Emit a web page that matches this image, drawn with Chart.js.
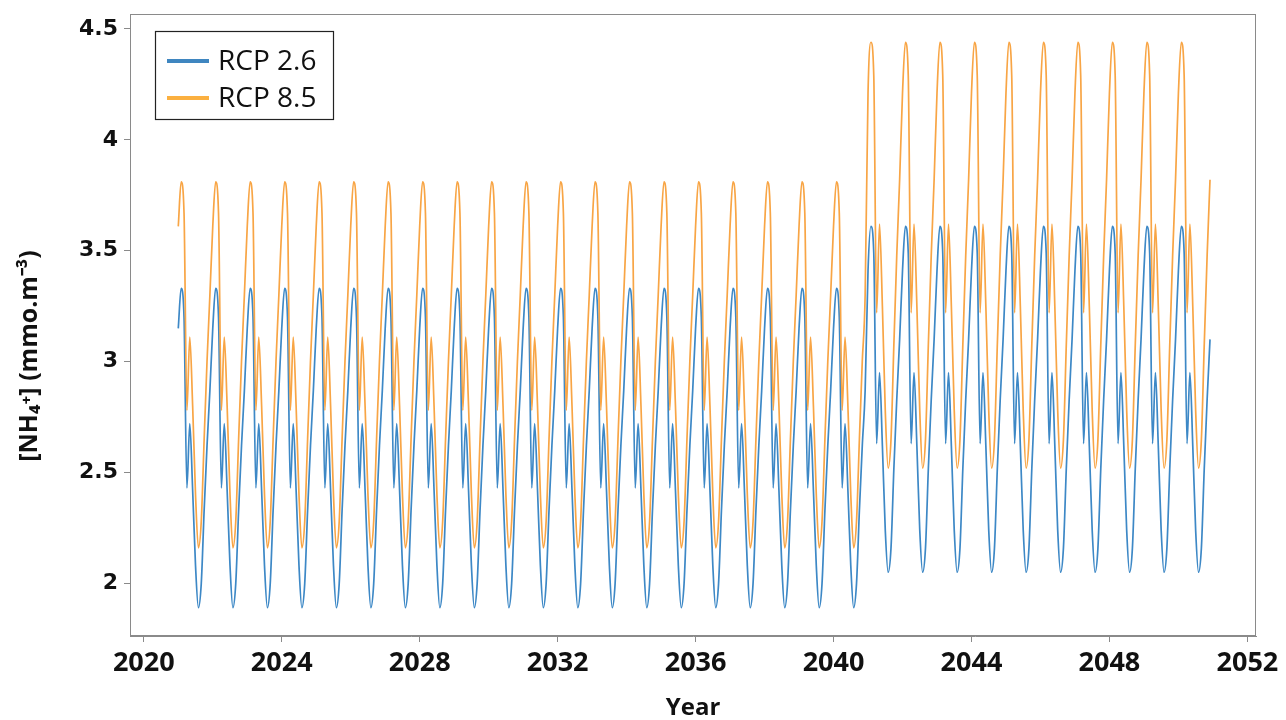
<!DOCTYPE html>
<html>
<head>
<meta charset="utf-8">
<script src="https://cdn.jsdelivr.net/npm/chart.js@4.4.1/dist/chart.umd.min.js"></script>
<style>
  html, body { margin: 0; padding: 0; background: #ffffff; }
  #c { display: block; }
</style>
</head>
<body>
<canvas id="c" width="1286" height="720"></canvas>
<script>
// ---- Data ----
// Years of each regime (monthly values, Jan..Dec each year)
const yearsEarly = [2021,2022,2023,2024,2025,2026,2027,2028,2029,2030,2031,2032,2033,2034,2035,2036,2037,2038,2039,2040];
const yearsLate  = [2041,2042,2043,2044,2045,2046,2047,2048,2049,2050];
const months = [0,1,2,3,4,5,6,7,8,9,10,11];

// Annual cycle (Jan..Dec) of [NH4+] as seen in the figure
const rcp26Early = [3.15, 3.33, 3.20, 2.43, 2.72, 2.42, 2.08, 1.89, 2.00, 2.33, 2.62, 2.87];
const rcp26Late  = [3.41, 3.61, 3.49, 2.63, 2.95, 2.62, 2.24, 2.05, 2.16, 2.52, 2.83, 3.10];
const rcp85Early = [3.61, 3.81, 3.67, 2.78, 3.11, 2.80, 2.40, 2.16, 2.28, 2.65, 3.00, 3.30];
const rcp85Late  = [4.21, 4.44, 4.29, 3.22, 3.62, 3.25, 2.78, 2.52, 2.65, 3.08, 3.48, 3.82];

const seriesLabels = ['RCP 2.6', 'RCP 8.5'];
const xTicks = [2020, 2024, 2028, 2032, 2036, 2040, 2044, 2048, 2052];
const yTicks = [2, 2.5, 3, 3.5, 4, 4.5];
const yTitle = '[NH\u2084\u207A] (mmo.m\u207B\u00B3)';

function buildSeries(early, late) {
  const pts = [];
  yearsEarly.forEach(y => months.forEach(m => pts.push({ x: y + m / 12, y: early[m] })));
  yearsLate.forEach(y => months.forEach(m => pts.push({ x: y + m / 12, y: late[m] })));
  return pts;
}

const BLUE = '#3d88c6';
const ORANGE = '#f8a545';
const AXIS = '#8a8a8a';

const frameAndLegend = {
  id: 'frameAndLegend',
  afterDraw(chart) {
    const { ctx, chartArea: a } = chart;
    ctx.save();
    ctx.strokeStyle = AXIS;
    ctx.lineWidth = 1;
    ctx.strokeRect(a.left + 0.5, a.top + 0.5, a.right - a.left - 1, a.bottom - a.top - 1);

    // y-axis title
    ctx.save();
    ctx.translate(30, 356);
    ctx.rotate(-Math.PI / 2);
    ctx.font = 'bold 25px "Open Sans"';
    ctx.fillStyle = '#111111';
    ctx.textAlign = 'center';
    ctx.textBaseline = 'middle';
    ctx.fillText(yTitle, 0, 0);
    ctx.restore();

    // legend box
    const bx = 155, by = 31, bw = 178, bh = 88;
    ctx.fillStyle = '#ffffff';
    ctx.fillRect(bx, by, bw, bh);
    ctx.strokeStyle = '#222222';
    ctx.lineWidth = 1.2;
    ctx.strokeRect(bx + 0.5, by + 0.5, bw, bh);
    ctx.font = '28px "Open Sans"';
    ctx.textBaseline = 'middle';
    ctx.textAlign = 'left';
    chart.data.datasets.forEach((ds, i) => {
      const yy = 61 + i * 37;
      ctx.strokeStyle = ds.legendColor || ds.borderColor;
      ctx.lineWidth = 4;
      ctx.beginPath();
      ctx.moveTo(167, yy);
      ctx.lineTo(209, yy);
      ctx.stroke();
      ctx.fillStyle = '#111111';
      ctx.fillText(ds.label, 218, yy + 1);
    });
    ctx.restore();
  }
};

new Chart(document.getElementById('c'), {
  type: 'line',
  data: {
    datasets: [
      { label: seriesLabels[0], data: buildSeries(rcp26Early, rcp26Late), borderColor: BLUE, legendColor: '#3f86c0', borderWidth: 1.7, pointRadius: 0, cubicInterpolationMode: 'monotone', order: 1 },
      { label: seriesLabels[1], data: buildSeries(rcp85Early, rcp85Late), borderColor: ORANGE, legendColor: '#fbb040', borderWidth: 1.7, pointRadius: 0, cubicInterpolationMode: 'monotone', order: 0 }
    ]
  },
  options: {
    responsive: false,
    animation: false,
    devicePixelRatio: 1,
    layout: { padding: { left: 0, right: 30, top: 14, bottom: 0 } },
    plugins: { legend: { display: false }, tooltip: { enabled: false } },
    scales: {
      x: {
        type: 'linear',
        min: 2019.6,
        max: 2052.25,
        afterBuildTicks: s => { s.ticks = xTicks.map(v => ({ value: v })); },
        afterFit: s => { s.height = 84; s.paddingLeft = 0; s.paddingRight = 0; },
        grid: { drawOnChartArea: false, drawTicks: true, tickLength: 6, color: AXIS },
        border: { display: true, color: AXIS },
        ticks: {
          color: '#111111',
          padding: 5,
          maxRotation: 0,
          autoSkip: false,
          font: { family: '"Open Sans"', weight: 'bold', size: 27 },
          callback: v => String(v)
        },
        title: {
          display: true,
          text: 'Year',
          color: '#111111',
          padding: { top: 0, bottom: 0 },
          font: { family: '"Open Sans"', weight: 'bold', size: 24, lineHeight: 1.0 }
        }
      },
      y: {
        type: 'linear',
        min: 1.7625,
        max: 4.5675,
        afterBuildTicks: s => { s.ticks = yTicks.map(v => ({ value: v })); },
        afterFit: s => { s.width = 130; s.paddingTop = 0; s.paddingBottom = 0; },
        grid: { drawOnChartArea: false, drawTicks: true, tickLength: 6, color: AXIS },
        border: { display: true, color: AXIS },
        ticks: {
          color: '#111111',
          padding: 6,
          font: { family: '"DejaVu Sans"', weight: 'bold', size: 22 },
          callback: v => String(Number(v.toFixed(2)))
        },
        title: { display: false }
      }
    }
  },
  plugins: [frameAndLegend]
});
</script>
</body>
</html>
